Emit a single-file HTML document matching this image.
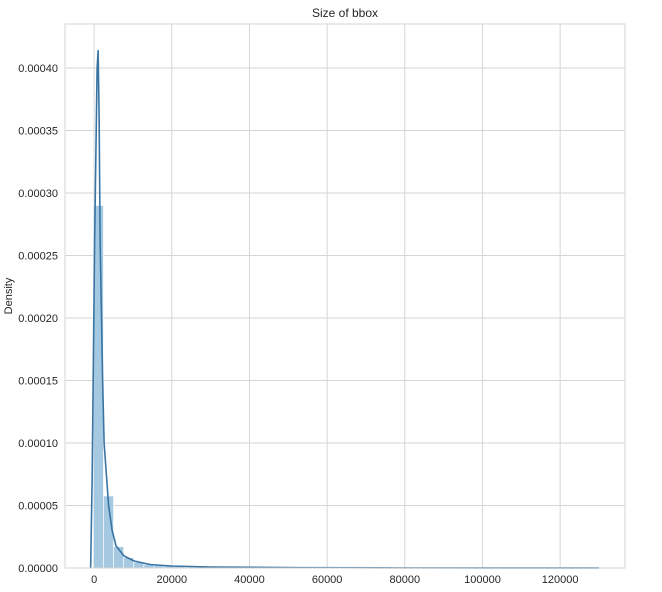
<!DOCTYPE html>
<html><head><meta charset="utf-8"><style>
body{margin:0;background:#fff;font-family:"Liberation Sans",sans-serif;}
svg text{font-family:"Liberation Sans",sans-serif;fill:#262626;}
</style></head><body>
<svg id="chart" width="662" height="587">
</svg>
<script>
const xTicks=[0,20000,40000,60000,80000,100000,120000];
const yTicks=[0,0.00005,0.0001,0.00015,0.0002,0.00025,0.0003,0.00035,0.0004];
const yTickLabels=["0.00000","0.00005","0.00010","0.00015","0.00020","0.00025","0.00030","0.00035","0.00040"];
const binStart=-200;
const binWidth=2600;
const binHeights=[0.00029,0.0000576,0.000017,0.0000082,0.0000046,0.0000028,0.000002,0.0000015,0.0000011,0.0000009,0.0000007,0.0000005,0.0000004,0.0000003,0.0000003,0.0000002,0.0000002,0.0000002,0.0000001,0.0000001,0.0000001,0.0000001,0.0000001,0.0000001,0.00000008,0.00000008,0.00000006,0.00000006,0.00000005,0.00000005,0.00000004,0.00000004,0.00000003,0.00000003,0.00000003,0.00000003,0.00000002,0.00000002,0.00000002,0.00000002,0.00000002,0.00000002,0.00000001,0.00000001,0.00000001,0.00000001,0.00000001,0.00000001,0.00000001,0.00000001];
const kdeX=[-900,-515,130,770,1030,1290,1540,2190,2570,3730,4630,5660,7720,10300,14400,19800,29800,53000,78800,130000];
const kdeY=[0,0.00007,0.000262,0.0004,0.000414,0.00036,0.000262,0.00015,0.0001,0.00005,0.00003,0.0000176,0.0000096,0.0000056,0.0000028,0.0000016,0.0000008,0.0000003,0.0000001,0.00000003];

const L=65,R=625,T=24,B=568;
const xMin=-7500,xMax=136700,yMax=0.0004352;
const xs=v=>L+(v-xMin)/(xMax-xMin)*(R-L);
const ys=v=>B-v/yMax*(B-T);
const svg=document.getElementById('chart');
const NS='http://www.w3.org/2000/svg';
function mk(tag,attrs,parent){const e=document.createElementNS(NS,tag);for(const k in attrs)e.setAttribute(k,attrs[k]);(parent||svg).appendChild(e);return e;}

const grid=mk('g',{});


xTicks.forEach(t=>{mk('line',{x1:xs(t),x2:xs(t),y1:T,y2:B,stroke:'#d6d6d6','stroke-width':1},grid);});
yTicks.forEach(t=>{mk('line',{x1:L,x2:R,y1:ys(t),y2:ys(t),stroke:'#d6d6d6','stroke-width':1},grid);});

const bars=mk('g',{});


binHeights.forEach((h,i)=>{
  const x0=xs(binStart+i*binWidth),x1=xs(binStart+(i+1)*binWidth);
  const r=mk('rect',{x:x0,y:ys(h),width:x1-x0,height:B-ys(h),fill:'#a6c9e2',stroke:'#ffffff','stroke-width':0.6},bars);
  
  
});

let d='';
kdeX.forEach((v,i)=>{d+=(i?'L':'M')+xs(v).toFixed(2)+','+ys(kdeY[i]).toFixed(2);});
const kde=mk('path',{d:d,fill:'none',stroke:'#3a74a3','stroke-width':1.6,'stroke-linejoin':'round'});



const frame=mk('rect',{x:L,y:T,width:R-L,height:B-T,fill:'none',stroke:'#d6d6d6','stroke-width':1});



xTicks.forEach(t=>{
  const e=mk('text',{x:xs(t),y:583,'text-anchor':'middle','font-size':11});
  e.textContent=String(t);
  
  
});
yTicks.forEach((t,i)=>{
  const e=mk('text',{x:58,y:ys(t)+4,'text-anchor':'end','font-size':11});
  e.textContent=yTickLabels[i];
  
  
});
const title=mk('text',{x:345,y:17,'text-anchor':'middle','font-size':12});
title.textContent='Size of bbox';


const yl=mk('text',{x:12,y:296,'text-anchor':'middle','font-size':11,transform:'rotate(-90 12 296)'});
yl.textContent='Density';


</script>
</body></html>
